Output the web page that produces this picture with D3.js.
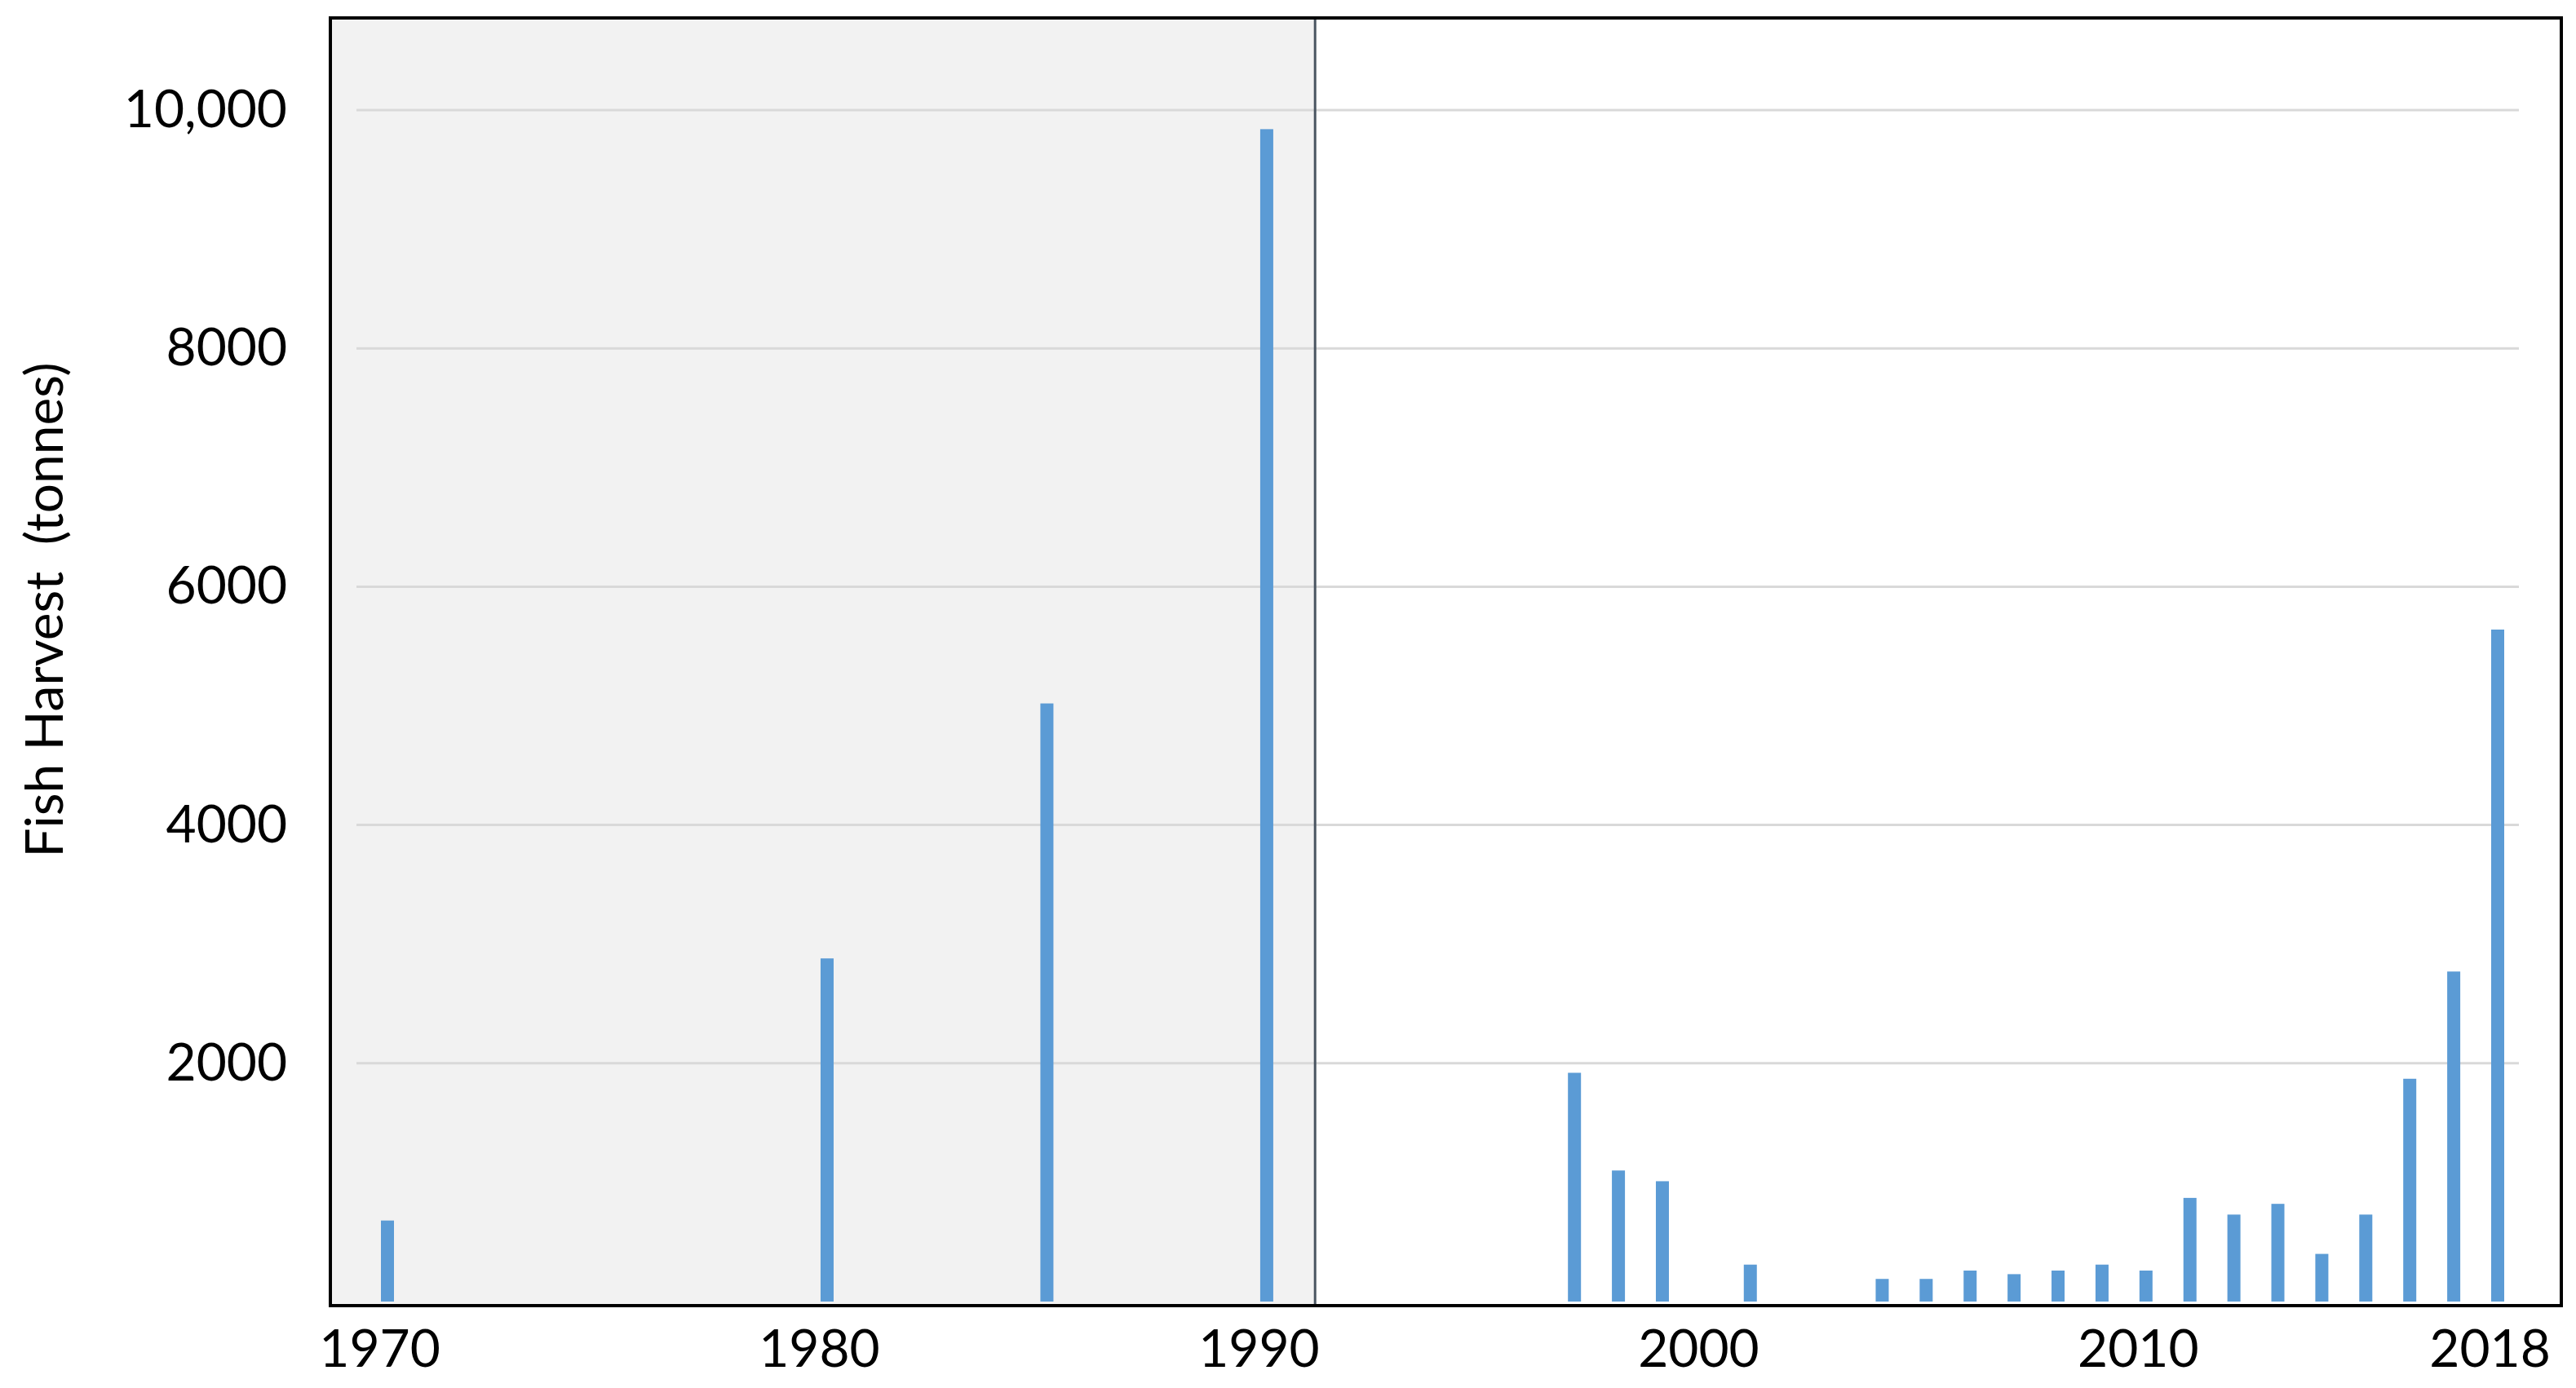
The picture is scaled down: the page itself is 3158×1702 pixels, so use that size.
<!DOCTYPE html>
<html>
<head>
<meta charset="utf-8">
<script src="https://cdn.jsdelivr.net/npm/d3@7"></script>
<style>
  body { margin: 0; background: #fff; }
  svg { display: block; font-family: Lato, "Open Sans", sans-serif; }
</style>
</head>
<body>
<svg id="chart" width="3158" height="1702"></svg>
<script>
// Data
const years = [1970, 1980, 1985, 1990, 1997, 1998, 1999, 2001, 2004, 2005, 2006, 2007,
               2008, 2009, 2010, 2011, 2012, 2013, 2014, 2015, 2016, 2017, 2018];
const harvest = [680, 2880, 5020, 9840, 1920, 1100, 1010, 310, 190, 190, 260, 230,
                 260, 310, 260, 870, 730, 820, 400, 730, 1870, 2770, 5640];
const yTicks = [2000, 4000, 6000, 8000, 10000];
const xTicks = [1970, 1980, 1990, 2000, 2010, 2018];
const shadeEndYear = 1991.1;   // grey period ends just after 1991
const yLabel = "Fish Harvest  (tonnes)";

const data = years.map((year, i) => ({ year, value: harvest[i] }));

// Layout
const frame = { left: 405, right: 3140, top: 22, bottom: 1601 };
const plot = { left: 437, right: 3088 };
const fontSize = 64;

const svg = d3.select("#chart");

const x = d3.scaleLinear().domain([1970, 2018]).range([475, 3062]);
const y = d3.scaleLinear().domain([0, 10000]).range([1596, 135]);

// Shaded period
svg.append("rect")
  .attr("x", frame.left)
  .attr("y", frame.top)
  .attr("width", x(shadeEndYear) - frame.left)
  .attr("height", frame.bottom - frame.top)
  .attr("fill", "#f2f2f2");

// Gridlines
svg.append("g")
  .selectAll("line")
  .data(yTicks)
  .join("line")
  .attr("x1", plot.left)
  .attr("x2", plot.right)
  .attr("y1", d => y(d))
  .attr("y2", d => y(d))
  .attr("stroke", "#d9d9d9")
  .attr("stroke-width", 3);

// Bars
const barWidth = 16;
svg.append("g")
  .selectAll("rect")
  .data(data)
  .join("rect")
  .attr("x", d => x(d.year) - barWidth / 2)
  .attr("y", d => y(d.value))
  .attr("width", barWidth)
  .attr("height", d => y(0) - y(d.value))
  .attr("fill", "#5b9bd5");

// Divider line
svg.append("line")
  .attr("x1", x(shadeEndYear))
  .attr("x2", x(shadeEndYear))
  .attr("y1", frame.top)
  .attr("y2", frame.bottom)
  .attr("stroke", "#4a5561")
  .attr("stroke-width", 3);

// Frame
svg.append("rect")
  .attr("x", frame.left)
  .attr("y", frame.top)
  .attr("width", frame.right - frame.left)
  .attr("height", frame.bottom - frame.top)
  .attr("fill", "none")
  .attr("stroke", "#000")
  .attr("stroke-width", 4);

// Y axis labels
const yFormat = d => d >= 10000 ? d3.format(",")(d) : d3.format("d")(d);
const yAxis = svg.append("g")
  .attr("transform", "translate(352,0)")
  .call(d3.axisLeft(y).tickValues(yTicks).tickFormat(yFormat).tickSize(0).tickPadding(0));
yAxis.select(".domain").remove();
yAxis.selectAll("text")
  .attr("font-family", "Lato, 'Open Sans', sans-serif")
  .attr("font-size", fontSize)
  .attr("fill", "#000");

// X axis labels
const xAxis = svg.append("g")
  .attr("transform", `translate(0,${frame.bottom})`)
  .call(d3.axisBottom(x).tickValues(xTicks).tickFormat(d3.format("d")).tickSize(0).tickPadding(30));
xAxis.select(".domain").remove();
xAxis.selectAll("text")
  .attr("font-family", "Lato, 'Open Sans', sans-serif")
  .attr("font-size", fontSize)
  .attr("dx", -10)
  .attr("fill", "#000");

// Y axis title
svg.append("text")
  .attr("transform", "translate(52,748) rotate(-90)")
  .attr("text-anchor", "middle")
  .attr("dominant-baseline", "central")
  .attr("font-size", fontSize)
  .attr("fill", "#000")
  .style("white-space", "pre")
  .text(yLabel);
</script>
</body>
</html>
